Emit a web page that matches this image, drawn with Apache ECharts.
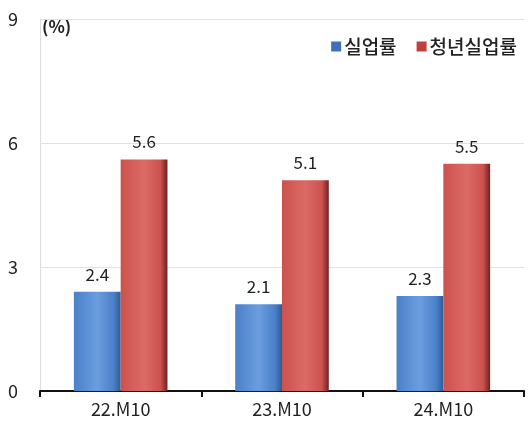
<!DOCTYPE html>
<html>
<head>
<meta charset="utf-8">
<script src="https://cdn.jsdelivr.net/npm/echarts@6/dist/echarts.min.js"></script>
<style>
html,body{margin:0;padding:0;background:#fff;}
#container{width:528px;height:426px;}
</style>
</head>
<body>
<div id="container"></div>
<script>
var categories = ['22.M10', '23.M10', '24.M10'];
var unemployment = [2.4, 2.1, 2.3];
var youthUnemployment = [5.6, 5.1, 5.5];
var seriesNames = ['실업률', '청년실업률'];

var font = "'Noto Sans CJK KR', 'Open Sans', sans-serif";

function barGrad(dark, mid, light){
	return new echarts.graphic.LinearGradient(0, 0, 1, 0, [
		{offset: 0, color: mid},
		{offset: 0.5, color: light},
		{offset: 0.85, color: mid},
		{offset: 1, color: dark}
	]);
}

var chart = echarts.init(document.getElementById('container'));
var option = {
	animation: false,
	grid: {left: 40, right: 4, top: 19, bottom: 35},
	legend: {
		right: 6,
		top: 32,
		itemWidth: 10,
		itemHeight: 10,
		itemGap: 20,
		icon: 'rect',
		textStyle: {fontFamily: font, fontSize: 19, fontWeight: 500, color: '#222', padding: [0, 0, 0, -2]},
		data: [
			{name: seriesNames[0], itemStyle: {color: '#3f6fb5'}},
			{name: seriesNames[1], itemStyle: {color: '#c0403c'}}
		]
	},
	graphic: [{
		type: 'text',
		left: 42,
		top: 18,
		style: {text: '(%)', font: 'bold 17px ' + font, fill: '#222'}
	}],
	xAxis: {
		type: 'category',
		data: categories,
		axisLine: {lineStyle: {color: '#111', width: 2}},
		axisTick: {show: true, length: 6, lineStyle: {color: '#111', width: 2}},
		axisLabel: {fontFamily: font, fontSize: 18, color: '#222', margin: 9}
	},
	yAxis: {
		type: 'value',
		min: 0,
		max: 9,
		interval: 3,
		axisLine: {show: true, lineStyle: {color: '#ddd'}},
		splitLine: {lineStyle: {color: '#e0e0e0'}},
		axisLabel: {fontFamily: font, fontSize: 18, color: '#222', margin: 22}
	},
	series: [{
		name: seriesNames[0],
		type: 'bar',
		data: unemployment,
		barGap: '0%',
		barCategoryGap: '42%',
		itemStyle: {color: barGrad('#2f5b96', '#4a80c8', '#6a9ee0')},
		label: {show: true, position: 'top', distance: 9, fontFamily: font, fontSize: 17, color: '#222'}
	}, {
		name: seriesNames[1],
		type: 'bar',
		data: youthUnemployment,
		itemStyle: {color: barGrad('#6e2220', '#cc524e', '#dc6a66')},
		label: {show: true, position: 'top', distance: 9, fontFamily: font, fontSize: 17, color: '#222'}
	}]
};
chart.setOption(option);
</script>
</body>
</html>
